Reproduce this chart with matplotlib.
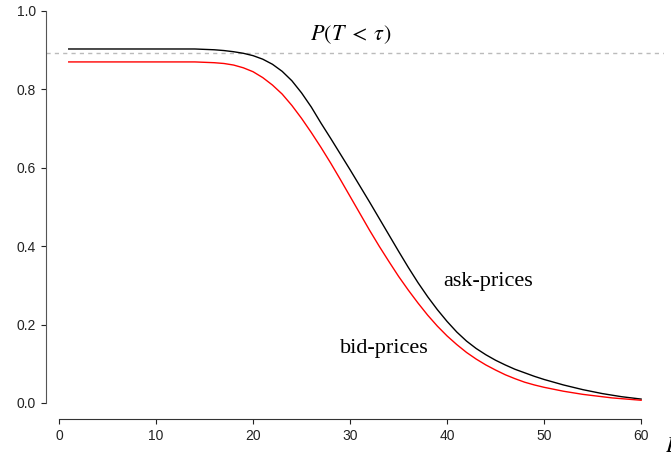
import numpy as np
import matplotlib
matplotlib.use('agg')
import matplotlib.pyplot as plt

plt.rcParams['font.family'] = 'Liberation Sans'
plt.rcParams['mathtext.fontset'] = 'stix'

## values, one per unit of E
E = list(range(1, 61))
ask = [0.903] * 14 + [
    0.902, 0.901, 0.899, 0.896, 0.892, 0.886, 0.877, 0.864, 0.846, 0.822,
    0.791, 0.755, 0.714, 0.675, 0.635, 0.595, 0.554, 0.513, 0.471, 0.429,
    0.387, 0.346, 0.307, 0.271, 0.238, 0.208, 0.181, 0.158, 0.139, 0.123,
    0.109, 0.097, 0.086, 0.077, 0.068, 0.060, 0.053, 0.046, 0.040, 0.034,
    0.029, 0.024, 0.020, 0.016, 0.013, 0.010]
bid = [0.870] * 14 + [
    0.869, 0.868, 0.866, 0.862, 0.855, 0.845, 0.830, 0.811, 0.788, 0.759,
    0.726, 0.690, 0.652, 0.612, 0.570, 0.527, 0.484, 0.441, 0.400, 0.361,
    0.323, 0.288, 0.255, 0.224, 0.196, 0.171, 0.149, 0.129, 0.112, 0.097,
    0.084, 0.072, 0.062, 0.053, 0.046, 0.040, 0.035, 0.030, 0.026, 0.022,
    0.019, 0.016, 0.013, 0.011, 0.009, 0.007]
p_default = 0.894
xticks = [0, 10, 20, 30, 40, 50, 60]
yticks = [0.0, 0.2, 0.4, 0.6, 0.8, 1.0]

fig = plt.figure(figsize=(6.71, 4.54), dpi=100)
ax = fig.add_axes([0.0683, 0.0778, 0.9213, 0.9326])

ax.axhline(p_default, color='#bbbbbb', lw=1, ls=(0, (3, 3)))
ax.plot(E, ask, color='black', lw=1)
ax.plot(E, bid, color='red', lw=1)

ax.set_xlim(-1.36, 62.36)
ax.set_ylim(-0.04, 1.04)

for s in ['top', 'right']:
    ax.spines[s].set_visible(False)
ax.spines['left'].set_bounds(0, 1)
ax.spines['bottom'].set_bounds(0, 60)
ax.spines['left'].set_color('#555555')
ax.spines['bottom'].set_color('#333333')
ax.set_xticks(xticks)
ax.set_yticks(yticks)
ax.set_xticklabels([str(t) for t in xticks])
ax.set_yticklabels(['%.1f' % t for t in yticks])
ax.tick_params(axis='both', direction='out', length=3.6, labelsize=10, colors='#222222')

serif = 'Liberation Serif'
ax.text(39.6, 0.309, 'ask-prices', fontsize=16, family=serif, va='center', ha='left')
ax.text(29.0, 0.138, 'bid-prices', fontsize=16, family=serif, va='center', ha='left')
ax.text(30.1, 0.939, r'$P(T\;<\;\tau)$', fontsize=16, va='center', ha='center')
ax.text(62.5, -0.11, r'$E$', fontsize=16, va='center', ha='left', clip_on=False)

fig.savefig('out.png', dpi=100)
